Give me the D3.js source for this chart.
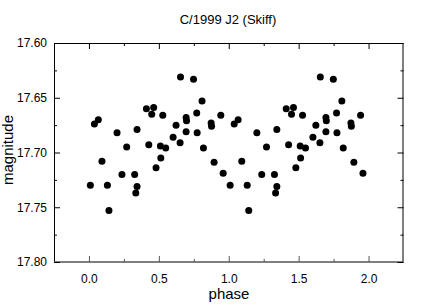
<!DOCTYPE html>
<html>
<head>
<meta charset="utf-8">
<script src="https://cdn.jsdelivr.net/npm/d3@7"></script>
<style>
  html, body { margin: 0; padding: 0; background: #fff; }
  svg { display: block; font-family: "Liberation Sans", Arial, sans-serif; }
</style>
</head>
<body>
<svg id="chart" width="436" height="306"></svg>
<script>
// Phase-folded light curve: one cycle of observations (plotted again at phase + 1)
const phase = [0.010, 0.039, 0.067, 0.093, 0.132, 0.143, 0.201, 0.236, 0.270, 0.327,
               0.344, 0.335, 0.344, 0.411, 0.463, 0.449, 0.428, 0.480, 0.514, 0.511,
               0.549, 0.528, 0.602, 0.623, 0.655, 0.652, 0.695, 0.698, 0.695, 0.748,
               0.771, 0.774, 0.809, 0.819, 0.874, 0.877, 0.895, 0.943, 0.960];
const magnitude = [17.730, 17.674, 17.670, 17.708, 17.730, 17.753, 17.682, 17.720, 17.695, 17.720,
                   17.731, 17.737, 17.679, 17.660, 17.659, 17.665, 17.693, 17.714, 17.705, 17.694,
                   17.696, 17.666, 17.686, 17.675, 17.631, 17.691, 17.668, 17.671, 17.681, 17.633,
                   17.664, 17.682, 17.653, 17.696, 17.673, 17.676, 17.709, 17.666, 17.719];
const cycles = [0, 1];
const xMajorTicks = [0, 0.5, 1.0, 1.5, 2.0];
const xMinorTicks = [0.25, 0.75, 1.25, 1.75];
const yMajorTicks = [17.60, 17.65, 17.70, 17.75, 17.80];
const yMinorTicks = [17.625, 17.675, 17.725, 17.775];
const title = "C/1999 J2 (Skiff)";
const xLabel = "phase";
const yLabel = "magnitude";

const svg = d3.select("#chart");
const L = 54, R = 403.5, T = 43, B = 262;

const x = d3.scaleLinear().domain([-0.25, 2.25]).range([L, R]);
const y = d3.scaleLinear().domain([17.60, 17.80]).range([T, B]);

// frame
svg.append("line").attr("x1", L).attr("x2", R).attr("y1", T + 0.5).attr("y2", T + 0.5).attr("stroke", "#000");
svg.append("line").attr("x1", L + 0.5).attr("x2", L + 0.5).attr("y1", T).attr("y2", B).attr("stroke", "#000");
svg.append("line").attr("x1", R - 0.5).attr("x2", R - 0.5).attr("y1", T).attr("y2", B).attr("stroke", "#000");
svg.append("line").attr("x1", L).attr("x2", R).attr("y1", B).attr("y2", B).attr("stroke", "#555").attr("stroke-width", 1.5);

function drawAxis(axis, transform, color) {
  const g = svg.append("g").attr("transform", transform).call(axis);
  g.select(".domain").remove();
  g.selectAll("line").attr("stroke", color);
  return g;
}

// bottom axis (labels + inward ticks)
const bx = drawAxis(d3.axisBottom(x).tickValues(xMajorTicks).tickSizeInner(-6).tickSizeOuter(0)
  .tickPadding(12).tickFormat(d3.format(".1f")), `translate(0,${B})`, "#555");
bx.selectAll("text").attr("font-size", 12).attr("fill", "#000").attr("font-family", "Liberation Sans, Arial, sans-serif");
drawAxis(d3.axisBottom(x).tickValues(xMinorTicks).tickSizeInner(-3).tickSizeOuter(0).tickFormat(""), `translate(0,${B})`, "#555");
// top axis ticks
drawAxis(d3.axisTop(x).tickValues(xMajorTicks).tickSizeInner(-6).tickSizeOuter(0).tickFormat(""), `translate(0,${T})`, "#000");
drawAxis(d3.axisTop(x).tickValues(xMinorTicks).tickSizeInner(-3).tickSizeOuter(0).tickFormat(""), `translate(0,${T})`, "#000");
// left axis
const ly = drawAxis(d3.axisLeft(y).tickValues(yMajorTicks).tickSizeInner(-6).tickSizeOuter(0)
  .tickPadding(7).tickFormat(d3.format(".2f")), `translate(${L},0)`, "#000");
ly.selectAll("text").attr("font-size", 12).attr("fill", "#000").attr("font-family", "Liberation Sans, Arial, sans-serif");
drawAxis(d3.axisLeft(y).tickValues(yMinorTicks).tickSizeInner(-3).tickSizeOuter(0).tickFormat(""), `translate(${L},0)`, "#000");
// right axis ticks
drawAxis(d3.axisRight(y).tickValues(yMajorTicks).tickSizeInner(-6).tickSizeOuter(0).tickFormat(""), `translate(${R},0)`, "#000");
drawAxis(d3.axisRight(y).tickValues(yMinorTicks).tickSizeInner(-3).tickSizeOuter(0).tickFormat(""), `translate(${R},0)`, "#000");

// points
const pts = [];
cycles.forEach(c => phase.forEach((p, i) => pts.push({ p: p + c, m: magnitude[i] })));
svg.append("g").selectAll("circle").data(pts).join("circle")
  .attr("cx", d => x(d.p)).attr("cy", d => y(d.m)).attr("r", 3.5).attr("fill", "#000");

// title & labels
svg.append("text").attr("x", 228).attr("y", 24).attr("text-anchor", "middle")
  .attr("font-size", 13).text(title);
svg.append("text").attr("x", 229).attr("y", 299).attr("text-anchor", "middle")
  .attr("font-size", 15).text(xLabel);
svg.append("text").attr("transform", "translate(13,150) rotate(-90)").attr("text-anchor", "middle")
  .attr("font-size", 15).text(yLabel);
</script>
</body>
</html>
